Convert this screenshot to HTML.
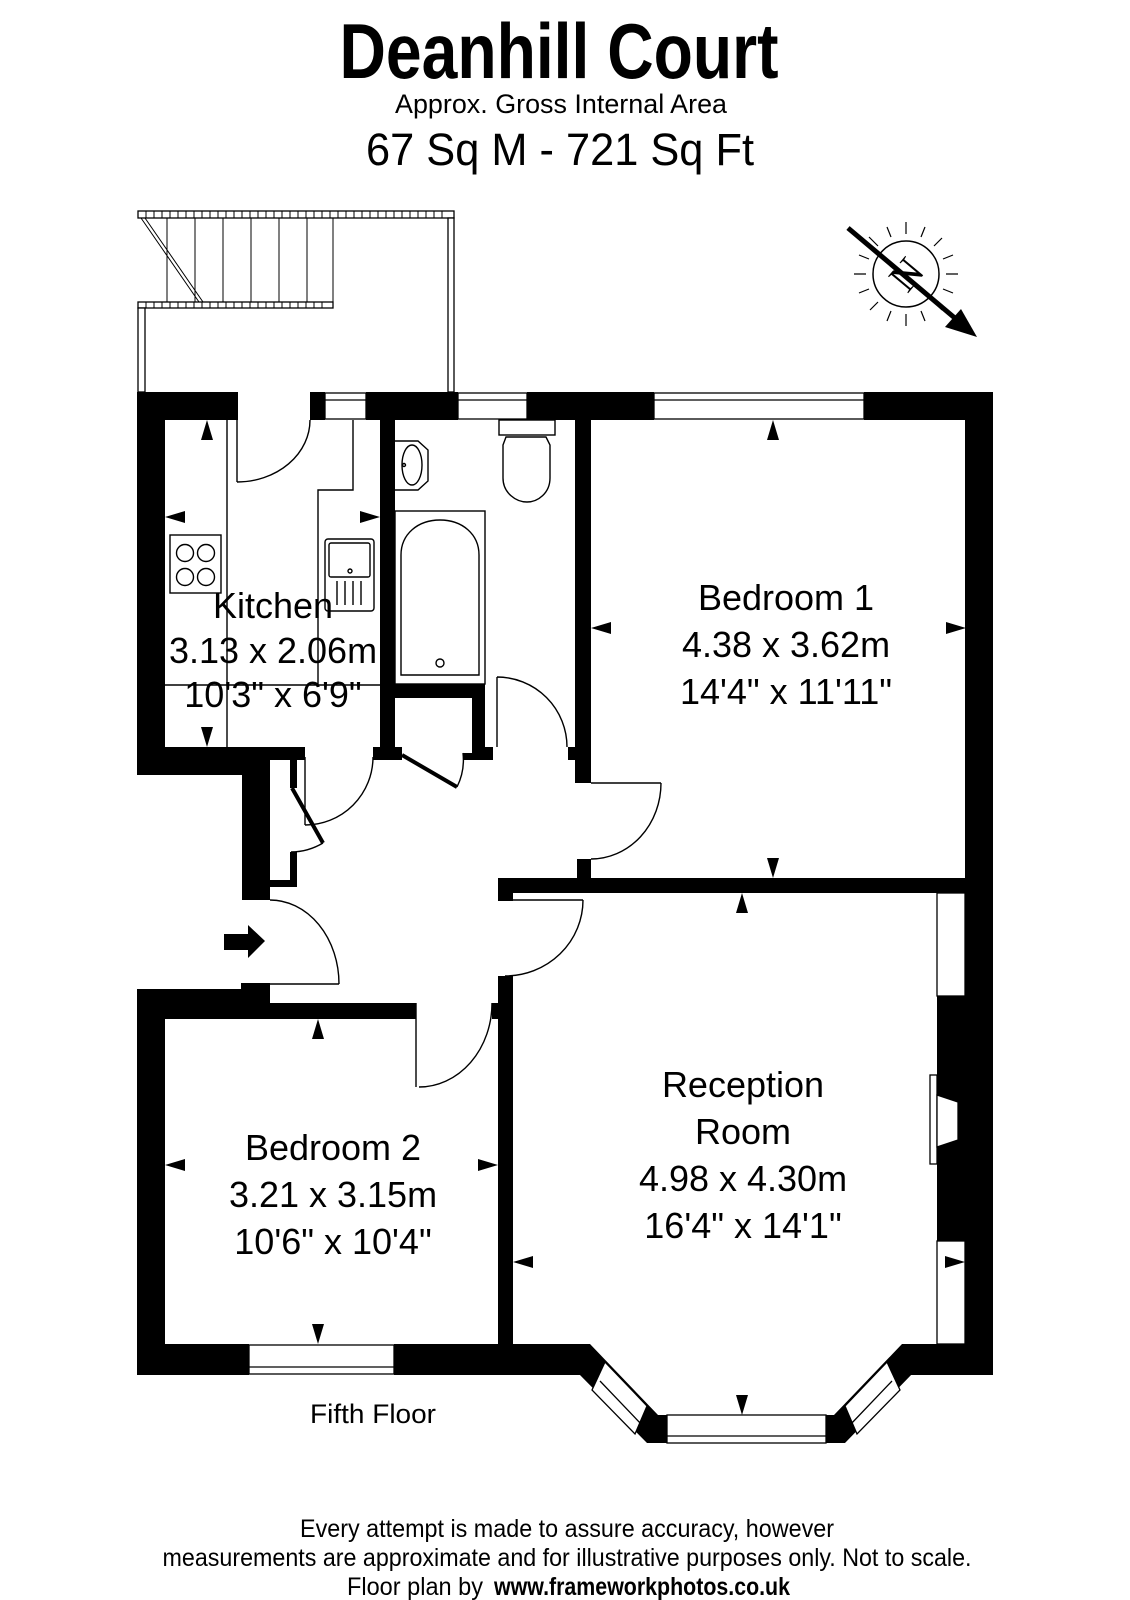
<!DOCTYPE html>
<html><head><meta charset="utf-8"><style>
html,body{margin:0;padding:0;background:#fff;}
svg{display:block;}
text{font-family:"Liberation Sans",Arial,sans-serif;fill:#000;}
</style></head><body>
<svg width="1130" height="1600" viewBox="0 0 1130 1600" xmlns="http://www.w3.org/2000/svg">
<rect width="1130" height="1600" fill="#fff"/>
<!-- Titles -->
<text x="559" y="78" font-size="78" font-weight="bold" text-anchor="middle" textLength="439" lengthAdjust="spacingAndGlyphs">Deanhill Court</text>
<text x="561" y="113" font-size="27" text-anchor="middle" textLength="332" lengthAdjust="spacingAndGlyphs">Approx. Gross Internal Area</text>
<text x="560" y="165" font-size="45" text-anchor="middle" textLength="388" lengthAdjust="spacingAndGlyphs">67 Sq M  -  721 Sq Ft</text>

<!-- Balcony / stairs -->
<g fill="#fff" stroke="#000" stroke-width="1.3">
<rect x="138" y="211" width="316" height="7"/>
<rect x="138" y="302" width="195" height="6"/>
<rect x="138" y="308" width="7" height="84"/>
<rect x="448" y="218" width="6" height="174"/>
</g>
<g stroke="#000" stroke-width="1">
<path d="M146,211v7M154,211v7M162,211v7M170,211v7M178,211v7M186,211v7M194,211v7M202,211v7M210,211v7M218,211v7M226,211v7M234,211v7M242,211v7M250,211v7M258,211v7M266,211v7M274,211v7M282,211v7M290,211v7M298,211v7M306,211v7M314,211v7M322,211v7M330,211v7M338,211v7M346,211v7M354,211v7M362,211v7M370,211v7M378,211v7M386,211v7M394,211v7M402,211v7M410,211v7M418,211v7M426,211v7M434,211v7M442,211v7"/>
<path d="M146,302v6M154,302v6M162,302v6M170,302v6M178,302v6M186,302v6M194,302v6M202,302v6M210,302v6M218,302v6M226,302v6M234,302v6M242,302v6M250,302v6M258,302v6M266,302v6M274,302v6M282,302v6M290,302v6M298,302v6M306,302v6M314,302v6M322,302v6"/>
<path d="M167,218v84M195,218v84M223,218v84M251,218v84M279,218v84M307,218v84M333,218v84"/>
<path d="M141,218L199,302M145,218L203,302"/>
</g>

<!-- Compass -->
<g stroke="#000" fill="none">
<circle cx="906" cy="274" r="33" stroke-width="1.5"/>
<g stroke-width="1.2">
<path d="M906,234v-12M906,314v12M866,274h-12M946,274h12"/>
<path d="M934,246l8,-8M878,302l-8,8M878,246l-9,-9M934,302l8,8"/>
<path d="M921,237l4,-10M891,311l-4,10M869,259l-10,-4M943,289l10,4M891,237l-4,-10M921,311l4,10M869,289l-10,4M943,259l10,-4"/>
</g>
<line x1="848" y1="228" x2="956" y2="319" stroke-width="5"/>
</g>
<polygon points="977,337 945,327 961,309" fill="#000"/>
<text x="906" y="288" font-size="40" text-anchor="middle" transform="rotate(-50 906 274)" style="font-family:'Liberation Serif',serif">N</text>

<!-- Walls -->
<g fill="#000">
<rect x="137" y="392" width="101" height="28"/>
<rect x="310" y="392" width="15" height="28"/>
<rect x="366" y="392" width="92" height="28"/>
<rect x="527" y="392" width="127" height="28"/>
<rect x="864" y="392" width="129" height="28"/>
<rect x="137" y="392" width="28" height="383"/>
<rect x="137" y="747" width="105" height="28"/>
<rect x="242" y="747" width="63" height="13"/>
<rect x="242" y="747" width="28" height="153"/>
<rect x="290" y="760" width="7" height="28"/>
<rect x="242" y="880" width="55" height="7"/>
<rect x="290" y="852" width="7" height="35"/>
<rect x="380" y="420" width="15" height="340"/>
<rect x="373" y="747" width="29" height="13"/>
<rect x="395" y="684" width="90" height="14"/>
<rect x="472" y="698" width="13" height="62"/>
<rect x="463" y="753" width="22" height="7"/>
<rect x="485" y="747" width="8" height="13"/>
<rect x="575" y="420" width="16" height="363"/>
<rect x="568" y="747" width="8" height="13"/>
<rect x="577" y="859" width="14" height="34"/>
<rect x="498" y="878" width="495" height="15"/>
<rect x="498" y="893" width="15" height="8"/>
<rect x="965" y="392" width="28" height="983"/>
<rect x="498" y="976" width="15" height="368"/>
<rect x="137" y="989" width="105" height="30"/>
<rect x="241" y="983" width="29" height="36"/>
<rect x="270" y="1003" width="146" height="16"/>
<rect x="492" y="1003" width="6" height="16"/>
<rect x="137" y="989" width="28" height="386"/>
<rect x="137" y="1344" width="112" height="31"/>
<rect x="394" y="1344" width="196" height="31"/>
<rect x="902" y="1344" width="91" height="31"/>
<rect x="937" y="996" width="28" height="245"/>
<polygon points="590,1344 658,1415 834,1415 902,1344 913,1373 845,1443 647,1443 578,1373"/>
</g>

<!-- Windows -->
<g fill="#fff" stroke="#000" stroke-width="1.3">
<rect x="325" y="393" width="41" height="26"/>
<rect x="458" y="393" width="69" height="26"/>
<rect x="654" y="393" width="210" height="26"/>
<rect x="249" y="1345" width="145" height="29"/>
<rect x="667" y="1415" width="159" height="28"/>
<polygon points="605,1362 647,1406 635,1434 592,1390"/>
<polygon points="887,1362 845,1406 857,1434 900,1390"/>
<rect x="937" y="893" width="28" height="103"/>
<rect x="937" y="1241" width="28" height="103"/>
<rect x="930" y="1075" width="7" height="89"/>
<polygon points="937,1095 958,1102 958,1140 937,1147"/>
</g>
<g stroke="#000" stroke-width="1.3" fill="none">
<path d="M325,400h41M458,400h69M654,400h210M249,1367h145M667,1436h159M600,1381l42,44M892,1381l-42,44"/>
</g>

<!-- Fixtures & doors -->
<g stroke="#000" stroke-width="1.4" fill="none">
<path d="M227,420V747M165,685H380M318,685V490H353V420"/>
<rect x="170" y="535" width="51" height="58"/>
<circle cx="185" cy="553" r="8.5"/><circle cx="206" cy="553" r="8.5"/>
<circle cx="185" cy="577" r="8.5"/><circle cx="206" cy="577" r="8.5"/>
<rect x="325" y="539" width="49" height="72" rx="3"/>
<rect x="329" y="543" width="41" height="34" rx="2"/>
<circle cx="350" cy="571" r="2"/>
<path d="M337,581v24M345,581v24M353,581v24M361,581v24"/>
<path d="M395,441H418L428,450V481L418,490H395"/>
<ellipse cx="412" cy="465" rx="10" ry="20"/>
<circle cx="404" cy="465" r="1.5"/>
<rect x="499" y="420" width="56" height="15"/>
<path d="M506,437H546L550,445V478C550,493 538,502 527,502C516,502 503,493 503,478V445Z"/>
<rect x="395" y="511" width="90" height="173"/>
<path d="M401,675V555C401,534 418,520 440,520C462,520 479,534 479,555V675Z"/>
<circle cx="440" cy="663" r="4"/>
<path d="M237,420V482M237,482A73,62 0 0 0 310,420"/>
<path d="M305,757V825M305,825A68,68 0 0 0 373,757"/>
<path d="M323,843A63,63 0 0 1 291,852"/>
<path d="M463,753A61,61 0 0 1 457,787"/>
<path d="M497,677V747M497,677A70,70 0 0 1 567,747"/>
<path d="M591,783H661M661,783A70,76 0 0 1 591,859"/>
<path d="M505,900H583M583,900A78,76 0 0 1 505,976"/>
<path d="M270,984H339M339,984A69,84 0 0 0 270,900"/>
<path d="M416,1003V1087M419,1087A73,84 0 0 0 492,1003"/>
</g>
<g stroke="#000" stroke-width="4" fill="none">
<path d="M292,788L323,843M402,755L457,787"/>
</g>

<!-- dimension arrows -->
<g fill="#000">
<polygon points="207,420 201,440 213,440"/>
<polygon points="207,747 201,727 213,727"/>
<polygon points="165,517 185,511 185,523"/>
<polygon points="380,517 360,511 360,523"/>
<polygon points="773,420 767,440 779,440"/>
<polygon points="773,878 767,858 779,858"/>
<polygon points="591,628 611,622 611,634"/>
<polygon points="966,628 946,622 946,634"/>
<polygon points="742,893 736,913 748,913"/>
<polygon points="742,1415 736,1395 748,1395"/>
<polygon points="513,1262 533,1256 533,1268"/>
<polygon points="965,1262 945,1256 945,1268"/>
<polygon points="318,1019 312,1039 324,1039"/>
<polygon points="318,1344 312,1324 324,1324"/>
<polygon points="165,1165 185,1159 185,1171"/>
<polygon points="498,1165 478,1159 478,1171"/>
<polygon points="224,934 248,934 248,925 265,941 248,958 248,950 224,950"/>
</g>

<!-- Room labels -->
<g font-size="36" text-anchor="middle">
<text x="273" y="618">Kitchen</text>
<text x="273" y="663">3.13 x 2.06m</text>
<text x="273" y="707">10'3" x 6'9"</text>
<text x="786" y="610">Bedroom 1</text>
<text x="786" y="657">4.38 x 3.62m</text>
<text x="786" y="704">14'4" x 11'11"</text>
<text x="333" y="1160">Bedroom 2</text>
<text x="333" y="1207">3.21 x 3.15m</text>
<text x="333" y="1254">10'6" x 10'4"</text>
<text x="743" y="1097">Reception</text>
<text x="743" y="1144">Room</text>
<text x="743" y="1191">4.98 x 4.30m</text>
<text x="743" y="1238">16'4" x 14'1"</text>
</g>
<text x="373" y="1423" font-size="27" text-anchor="middle" textLength="126" lengthAdjust="spacingAndGlyphs">Fifth Floor</text>

<!-- Footer -->
<text x="567" y="1537" font-size="25" text-anchor="middle" textLength="534" lengthAdjust="spacingAndGlyphs">Every attempt is made to assure accuracy, however</text>
<text x="567" y="1566" font-size="25" text-anchor="middle" textLength="809" lengthAdjust="spacingAndGlyphs">measurements are approximate and for illustrative purposes only. Not to scale.</text>
<text x="347" y="1595" font-size="25" textLength="136" lengthAdjust="spacingAndGlyphs">Floor plan by</text>
<text x="494" y="1595" font-size="25" font-weight="bold" textLength="296" lengthAdjust="spacingAndGlyphs">www.frameworkphotos.co.uk</text>
</svg>
</body></html>
